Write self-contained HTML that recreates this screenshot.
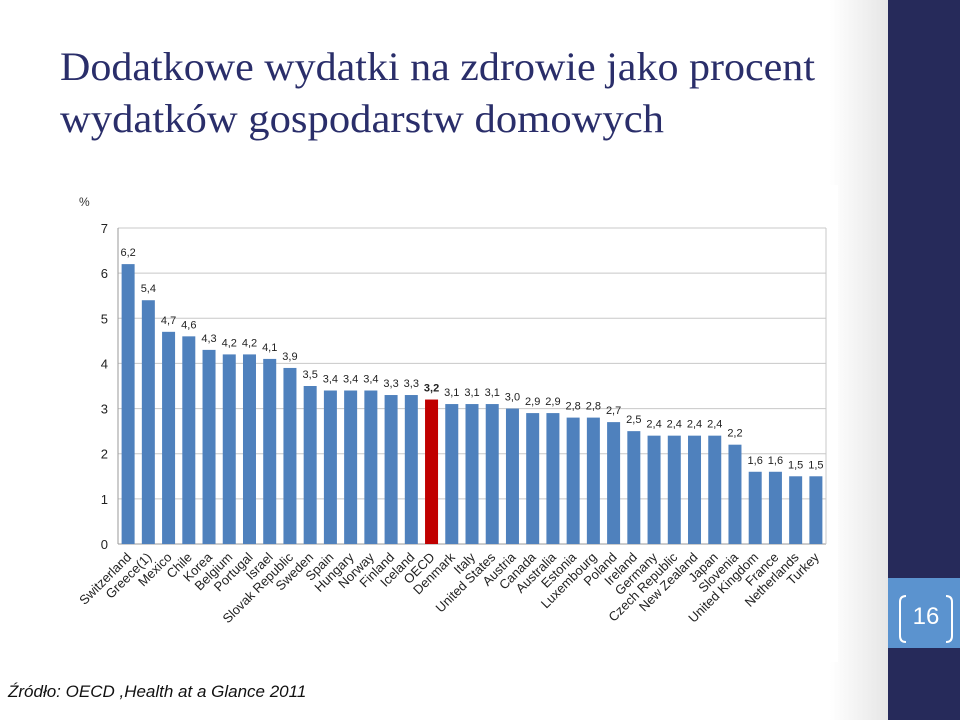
<!DOCTYPE html>
<html><head><meta charset="utf-8"><style>
body{margin:0;width:960px;height:720px;overflow:hidden;background:#fff;font-family:"Liberation Sans",Arial,sans-serif}
</style></head><body>
<svg id="s" width="960" height="720" xmlns="http://www.w3.org/2000/svg">
<defs><linearGradient id="g" x1="0" x2="1"><stop offset="0" stop-color="#fff"/><stop offset="1" stop-color="#e6e6e6"/></linearGradient></defs>
<rect x="830" y="0" width="58" height="720" fill="url(#g)"/>
<rect x="60" y="185" width="778" height="477" fill="#fff"/>
<rect x="888" y="0" width="72" height="720" fill="#262a5a"/>
<rect x="888" y="578" width="72" height="70" fill="#5b93cf"/>
<text x="926" y="624" font-size="24" fill="#fff" text-anchor="middle">16</text>
<path d="M906 596 q-6 0 -6 6 v34 q0 6 6 6 M946 596 q6 0 6 6 v34 q0 6 -6 6" stroke="#fff" stroke-width="2" fill="none"/>
<text x="60" y="80" font-family="Liberation Serif,serif" font-size="40" fill="#2a2e6a" textLength="755" lengthAdjust="spacingAndGlyphs">Dodatkowe wydatki na zdrowie jako procent</text>
<text x="60" y="132" font-family="Liberation Serif,serif" font-size="40" fill="#2a2e6a" textLength="604" lengthAdjust="spacingAndGlyphs">wydatków gospodarstw domowych</text>
<text x="79" y="206" font-size="12" fill="#333">%</text>
<text x="8" y="697" font-size="17" font-style="italic" fill="#111">Źródło: OECD ,Health at a Glance 2011</text>
<g id="chart"></g>
</svg>
<script>
const categories=["Switzerland","Greece(1)","Mexico","Chile","Korea","Belgium","Portugal","Israel","Slovak Republic","Sweden","Spain","Hungary","Norway","Finland","Iceland","OECD","Denmark","Italy","United States","Austria","Canada","Australia","Estonia","Luxembourg","Poland","Ireland","Germany","Czech Republic","New Zealand","Japan","Slovenia","United Kingdom","France","Netherlands","Turkey"];
const values=[6.2,5.4,4.7,4.6,4.3,4.2,4.2,4.1,3.9,3.5,3.4,3.4,3.4,3.3,3.3,3.2,3.1,3.1,3.1,3.0,2.9,2.9,2.8,2.8,2.7,2.5,2.4,2.4,2.4,2.4,2.2,1.6,1.6,1.5,1.5];
const yTicks=[0,1,2,3,4,5,6,7];
const highlight="OECD";
const NS="http://www.w3.org/2000/svg";
const g=document.getElementById('chart');
const X0=118,X1=826,Y0=544,YT=228,YMAX=7;
const y=v=>Y0-(v/YMAX)*(Y0-YT);
const step=(X1-X0)/categories.length;
const x=i=>X0+step*(i+0.5);
function mk(t,a,txt){const e=document.createElementNS(NS,t);for(const k in a)e.setAttribute(k,a[k]);if(txt!==undefined)e.textContent=txt;g.appendChild(e);return e;}
yTicks.forEach(t=>{
 const l=mk('line',{x1:X0,x2:X1,y1:y(t),y2:y(t),stroke:t===0?'#999':'#c8c8c8','stroke-width':1});
 
 
 const tx=mk('text',{x:X0-10,y:y(t)+5,'font-size':13,'text-anchor':'end',fill:'#222'},String(t));
 
 
});
mk('line',{x1:X0,x2:X0,y1:YT,y2:Y0,stroke:'#999'});
mk('line',{x1:X1,x2:X1,y1:YT,y2:Y0,stroke:'#c8c8c8'});
categories.forEach((c,i)=>{
 const v=values[i],cx=x(i),bw=13;
 const r=mk('rect',{x:cx-bw/2,y:y(v),width:bw,height:Y0-y(v),fill:c===highlight?'#c00000':'#4f81bd'});
 
 
 const vl=mk('text',{x:cx,y:y(v)-8,'font-size':11,'text-anchor':'middle',fill:'#222','font-weight':c===highlight?'bold':'normal'},v.toFixed(1).replace('.',','));
 
 
 const cl=mk('text',{x:cx+4,y:Y0+14,'font-size':13,'text-anchor':'end',fill:'#222',transform:`rotate(-45 ${cx+4} ${Y0+14})`},c);
 
 
});
</script>
</body></html>
